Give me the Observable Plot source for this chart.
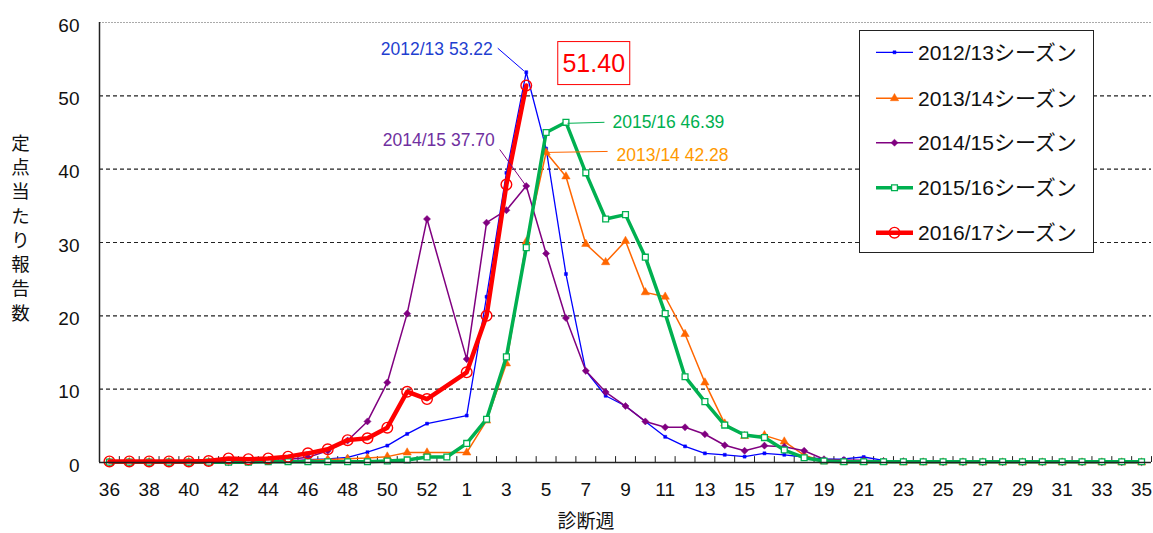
<!DOCTYPE html>
<html><head><meta charset="utf-8">
<script src="https://cdn.jsdelivr.net/npm/d3@7"></script>
<script src="https://cdn.jsdelivr.net/npm/@observablehq/plot@0.6"></script>
<style>body{margin:0;background:#fff;} svg{display:block}</style>
</head><body><div id="chart"></div>
<script>
// x categories: diagnosis weeks (week 53 slot exists only for 2015/16)
const weekLabels = [36,37,38,39,40,41,42,43,44,45,46,47,48,49,50,51,52,53,1,2,3,4,5,6,7,8,9,10,11,12,13,14,15,16,17,18,19,20,21,22,23,24,25,26,27,28,29,30,31,32,33,34,35];
const yTicks = [0,10,20,30,40,50,60];
const seriesNames = ["2012/13シーズン","2013/14シーズン","2014/15シーズン","2015/16シーズン","2016/17シーズン"];

const s1213 = [0.1,0.1,0.1,0.1,0.1,0.1,0.1,0.1,0.2,0.2,0.4,0.5,0.7,1.4,2.3,3.9,5.3,null,6.4,22.6,39.5,53.22,42.8,25.7,12.5,9.1,7.7,5.6,3.5,2.2,1.25,1.05,0.8,1.25,1.05,0.75,0.45,0.5,0.75,0.3,0.2,0.15,0.1,0.1,0.1,0.1,0.1,0.1,0.1,0.1,0.1,0.1,0.1];
const s1314 = [0.05,0.05,0.05,0.05,0.05,0.05,0.1,0.1,0.2,0.2,0.3,0.4,0.5,0.6,0.8,1.35,1.35,null,1.35,5.7,13.5,30.1,42.28,39.0,29.8,27.3,30.2,23.2,22.6,17.5,10.9,5.3,3.6,3.7,2.85,1.0,0.15,0.05,0.05,0.05,0.0,0.0,0.0,0.0,0.0,0.0,0.0,0.0,0.0,0.0,0.0,0.0,0.0];
const s1415 = [0.05,0.05,0.05,0.05,0.05,0.05,0.05,0.1,0.2,0.4,0.7,1.6,3.0,5.6,10.9,20.3,33.2,null,14.1,32.7,34.4,37.70,28.5,19.7,12.5,9.6,7.7,5.6,4.8,4.8,3.85,2.35,1.6,2.3,2.15,1.6,0.45,0.35,0.3,0.2,0.15,0.1,0.05,0.05,0.05,0.05,0.05,0.05,0.05,0.05,0.05,0.05,0.05];
const s1516 = [0.05,0.05,0.05,0.05,0.05,0.05,0.05,0.05,0.1,0.1,0.1,0.1,0.1,0.1,0.2,0.35,0.75,0.75,2.6,5.9,14.4,29.3,45.0,46.39,39.5,33.2,33.8,28.0,20.3,11.7,8.3,5.1,3.75,3.4,1.7,0.65,0.2,0.1,0.1,0.1,0.1,0.1,0.1,0.1,0.1,0.1,0.1,0.1,0.1,0.1,0.1,0.1,0.1];
const s1617 = [0.15,0.15,0.15,0.15,0.15,0.2,0.55,0.45,0.55,0.8,1.25,1.8,3.05,3.3,4.75,9.65,8.65,null,12.3,20.0,37.9,51.40];

const seriesValues = [s1213, s1314, s1415, s1516, s1617];
const styles = [
  {color:"#0000FF", sw:1.3, symbol:"square", r:1.7, fill:"#0000FF", stroke:"#0000FF", msw:0.5},
  {color:"#FF6600", sw:1.5, symbol:"triangle", r:3.1, fill:"#FF6600", stroke:"#FF6600", msw:0.5},
  {color:"#800080", sw:1.5, symbol:"diamond2", r:3.2, fill:"#800080", stroke:"#800080", msw:0.5},
  {color:"#00B050", sw:3.5, symbol:"square", r:3.3, fill:"white", stroke:"#00B050", msw:1.3},
  {color:"#FF0000", sw:4.5, symbol:"circle", r:5.3, fill:"none", stroke:"#FF0000", msw:1.4}
];
const rows = seriesValues.map((arr,k) => arr.map((v,i) => ({i, v, k})).filter(d => d.v != null));

const font = "Liberation Sans, Arial, 'Noto Sans CJK JP', sans-serif";

const marks = [
  Plot.ruleY([10,20,30,40,50], {stroke:"#222", strokeWidth:1.2, strokeDasharray:"4,3"}),
  Plot.ruleY([60], {stroke:"#aaa", strokeWidth:1, strokeDasharray:"2,1"}),
  Plot.ruleX(d3.range(-0.5, 53, 1), {y1:0, y2:0.8, stroke:"#222", strokeWidth:1}),
];
rows.forEach((data,k) => {
  const st = styles[k];
  marks.push(Plot.line(data, {x:"i", y:"v", stroke:st.color, strokeWidth:st.sw, strokeLinejoin:"round"}));
  marks.push(Plot.dot(data, {x:"i", y:"v", symbol:()=>st.symbol, r:st.r, fill:st.fill, stroke:st.stroke, strokeWidth:st.msw}));
});
marks.push(
  Plot.ruleY([0], {stroke:"#222", strokeWidth:1.5}),
  Plot.ruleX([-0.5], {stroke:"#222", strokeWidth:1.5}),
  Plot.axisX(d3.range(0, 53, 2), {tickSize:0, tickPadding:20, fontSize:19, tickFormat:i => weekLabels[i], label:null, fill:"#111"}),
  Plot.axisY(yTicks, {tickSize:0, tickPadding:20, fontSize:19, dy:3, label:null, fill:"#111"})
);

const plot = Plot.plot({
  width:1153, height:533,
  marginLeft:99, marginRight:2, marginTop:22, marginBottom:71,
  x:{type:"linear", domain:[-0.5, 52.5]},
  y:{domain:[0,60]},
  style:{fontFamily:font, background:"white"},
  marks
});
document.getElementById("chart").appendChild(plot);

const X = v => plot.scale("x").apply(v);
const Y = v => plot.scale("y").apply(v);
const svg = d3.select(plot);

// Y axis title (stacked vertical characters)
const ytitle = "定点当たり報告数";
[...ytitle].forEach((c,j) => {
  svg.append("text").attr("x",20.5).attr("y",143 + j*24.3).attr("dy","0.36em")
    .attr("text-anchor","middle").attr("font-size",18.5).attr("font-family","'Noto Sans CJK JP', sans-serif")
    .attr("fill","#111").text(c);
});
// X axis title
svg.append("text").attr("x",586).attr("y",521).attr("dy","0.36em").attr("text-anchor","middle")
  .attr("font-size",19).attr("font-family","'Noto Sans CJK JP', sans-serif").attr("fill","#111").text("診断週");

// Peak annotations
function peak(arr){ let bi=0; arr.forEach((v,i)=>{ if(v!=null && v>arr[bi]) bi=i; }); return {i:bi, v:arr[bi]}; }
const ann = [
  {k:0, label:"2012/13 53.22", color:"#1F3FD0", anchor:"end", tdx:-33, tdy:-23.5, l1:[-28,-23.5], l2:[-2,-1]},
  {k:2, label:"2014/15 37.70", color:"#7030A0", anchor:"end", tdx:-31, tdy:-46, l1:[-26,-36], l2:[0,0]},
  {k:3, label:"2015/16 46.39", color:"#00B050", anchor:"start", tdx:47, tdy:-0.5, l1:[2,1.5], l2:[39,0.5]},
  {k:1, label:"2013/14 42.28", color:"#FF9900", anchor:"start", tdx:71, tdy:3, l1:[0,0.5], l2:[62,-0.5]}
];
ann.forEach(a => {
  const p = peak(seriesValues[a.k]);
  const px = X(p.i), py = Y(p.v);
  svg.append("line").attr("x1",px+a.l1[0]).attr("y1",py+a.l1[1]).attr("x2",px+a.l2[0]).attr("y2",py+a.l2[1])
    .attr("stroke",styles[a.k].color).attr("stroke-width",1);
  svg.append("text").attr("x",px+a.tdx).attr("y",py+a.tdy).attr("dy","0.36em").attr("text-anchor",a.anchor)
    .attr("font-size",17.5).attr("font-family",font).attr("fill",a.color).text(a.label);
});
// Latest season peak boxed value
{
  const p = peak(s1617);
  const cx = X(p.i)+68, cy = Y(p.v)-22;
  svg.append("rect").attr("x",cx-36).attr("y",cy-21.5).attr("width",72).attr("height",43)
    .attr("fill","white").attr("stroke","#FF0000").attr("stroke-width",1);
  svg.append("text").attr("x",cx).attr("y",cy).attr("dy","0.36em").attr("text-anchor","middle")
    .attr("font-size",25).attr("font-family",font).attr("fill","#FF0000").text(p.v.toFixed(2));
}

// Legend
const lg = svg.append("g");
lg.append("rect").attr("x",859.5).attr("y",30.5).attr("width",234).attr("height",222)
  .attr("fill","white").attr("stroke","#222").attr("stroke-width",1);
const legendY = [52.3, 98.3, 142.7, 187.7, 232.7];
seriesNames.forEach((name,k) => {
  const st = styles[k], y = legendY[k];
  lg.append("line").attr("x1",876).attr("x2",913).attr("y1",y).attr("y2",y).attr("stroke",st.color).attr("stroke-width",st.sw);
  const sym = {square:d3.symbolSquare, triangle:d3.symbolTriangle, diamond2:d3.symbolDiamond2, circle:d3.symbolCircle}[st.symbol];
  lg.append("path").attr("transform",`translate(894.5,${y})`).attr("d", d3.symbol(sym, Math.PI*st.r*st.r)())
    .attr("fill",st.fill).attr("stroke",st.stroke).attr("stroke-width",st.msw);
  lg.append("text").attr("x",918).attr("y",y).attr("dy","0.36em").attr("text-anchor","start").attr("font-size",21)
    .attr("font-family",font).attr("fill","#111").text(name);
});
</script>
</body></html>
